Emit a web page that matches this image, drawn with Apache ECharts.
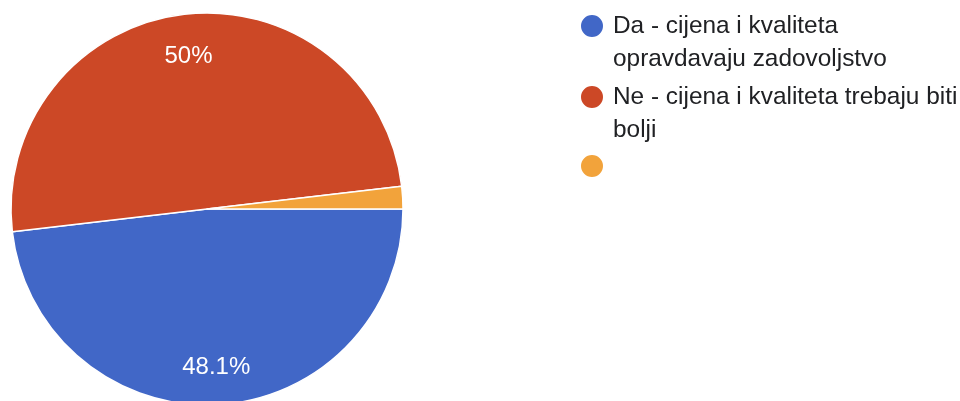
<!DOCTYPE html>
<html>
<head>
<meta charset="utf-8">
<script src="https://cdn.jsdelivr.net/npm/echarts@6/dist/echarts.min.js"></script>
<style>
  html, body { margin: 0; padding: 0; background: #fff; }
  #pieChart { width: 960px; height: 401px; }
</style>
</head>
<body>
<div id="pieChart"></div>
<script>
// answers (third one is blank in the form)
var names = ['Da - cijena i kvaliteta opravdavaju zadovoljstvo', 'Ne - cijena i kvaliteta trebaju biti bolji', ' '];
var counts = [26, 27, 1];
var colors = ['#4167c7', '#cc4826', '#f2a33b'];

var font = '"Liberation Sans", Arial, Helvetica, sans-serif';

var pieData = names.map(function (n, i) {
    return { name: n, value: counts[i], itemStyle: { color: colors[i] } };
});

var myChart = echarts.init(document.getElementById('pieChart'));

var option = {
    animation: false,
    legend: {
        orient: 'vertical',
        left: 579,
        top: -23.5,
        padding: 0,
        itemGap: -28,
        itemWidth: 24,
        itemHeight: 24,
        icon: 'circle',
        selectedMode: false,
        // leading blank line keeps the first text line level with the dot
        formatter: function (name) {
            return '\n' + name;
        },
        textStyle: {
            fontFamily: font,
            fontSize: 24.4,
            color: '#202124',
            lineHeight: 33,
            width: 352,
            overflow: 'break',
            padding: [0, 0, 0, 4]
        },
        data: [
            { name: names[0] },
            { name: names[1] },
            { name: names[2], textStyle: { padding: [29, 0, 0, 4] } }
        ]
    },
    series: [
        {
            type: 'pie',
            center: [207, 209],
            radius: [0, 196],
            startAngle: 0,
            clockwise: true,
            silent: true,
            label: { show: false },
            labelLine: { show: false },
            itemStyle: { borderColor: '#ffffff', borderWidth: 1.5 },
            data: pieData
        },
        {
            // transparent ring, only to place the % labels further out
            type: 'pie',
            center: [207, 209],
            radius: [116, 196],
            startAngle: 0,
            clockwise: true,
            silent: true,
            percentPrecision: 1,
            itemStyle: { color: 'rgba(0,0,0,0)' },
            labelLine: { show: false },
            label: {
                show: true,
                position: 'inside',
                color: '#ffffff',
                fontFamily: font,
                fontSize: 24,
                formatter: function (p) {
                    return p.percent < 5 ? '' : p.percent + '%';
                }
            },
            labelLayout: function (p) {
                return p.dataIndex === 1 ? { dy: 5 } : {};
            },
            data: names.map(function (n, i) {
                return { name: n, value: counts[i] };
            })
        }
    ]
};

myChart.setOption(option);
</script>
</body>
</html>
